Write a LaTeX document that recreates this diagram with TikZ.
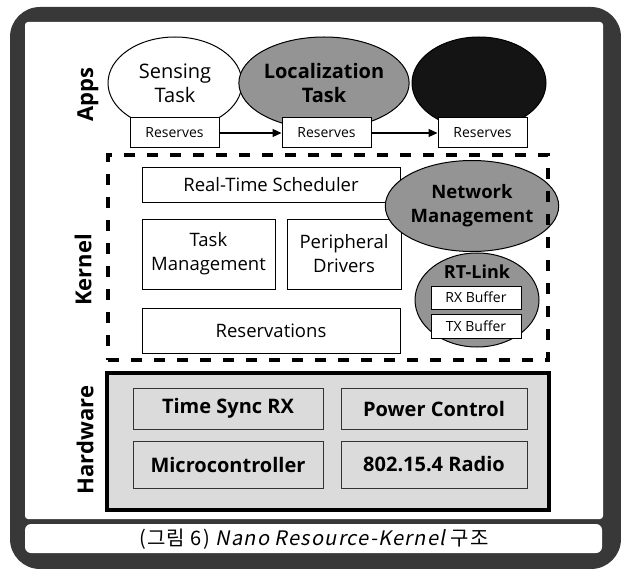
\documentclass[tikz,border=0pt]{standalone}
\usepackage{fontspec}
\setmainfont{Open Sans}
\newfontfamily\cjk[LetterSpace=6]{Noto Sans CJK KR}
\newfontfamily\cjkit[LetterSpace=6,FakeSlant=0.2]{Noto Sans CJK KR}
\usetikzlibrary{shapes.geometric,arrows.meta}

\definecolor{framegray}{gray}{0.22}
\definecolor{midgray}{gray}{0.58}
\definecolor{hwgray}{gray}{0.86}

\tikzset{
  layerlabel/.style={rotate=90, font=\fontsize{22}{22}\selectfont\bfseries},
  taskell/.style={ellipse, draw=black, line width=1pt, inner sep=0pt,
    minimum width=134pt, minimum height=92pt, align=center},
  resbox/.style={draw=black, fill=white, line width=1pt, inner sep=0pt,
    minimum width=89pt, minimum height=30pt, font=\fontsize{14}{14}\selectfont},
  kbox/.style={draw=black, fill=white, line width=0.8pt, inner sep=0pt,
    align=center, font=\fontsize{18.5}{24}\selectfont},
  netell/.style={ellipse, draw=black, fill=midgray, line width=1pt, inner sep=0pt,
    align=center},
  bufbox/.style={draw=black, fill=white, line width=0.8pt, inner sep=0pt,
    minimum width=90pt, font=\fontsize{14}{14}\selectfont},
  hwbox/.style={draw=black!80, fill=hwgray, line width=0.8pt, inner sep=0pt,
    minimum width=190pt, font=\fontsize{20}{20}\selectfont\bfseries},
  flow/.style={-{Triangle[length=9pt,width=8pt]}, line width=1.2pt},
  kernelframe/.style={draw=black, line width=4.5pt, dash pattern=on 11pt off 12pt,
    inner sep=0pt, minimum width=440pt, minimum height=205pt},
  hwframe/.style={draw=black, fill=hwgray, line width=4.5pt, inner sep=0pt,
    minimum width=442pt, minimum height=137pt}
}

\begin{document}
\begin{tikzpicture}[x=1pt,y=-1pt]
\useasboundingbox (0,0) rectangle (621,569);
\fill[white] (0,0) rectangle (621,569);

% page frame and its two white panels
\fill[framegray, rounded corners=30pt] (10,7) rectangle (621,569);
\fill[white, rounded corners=3pt] (25,22) rectangle (603,519);
\fill[white, rounded corners=6pt] (25,524) rectangle (602,553);

% layer labels
\node[layerlabel] (lapps) at (88,95) {Apps};
\node[layerlabel] (lkern) at (83,270) {Kernel};
\node[layerlabel] (lhw) at (85,440) {Hardware};

% application tasks
\node[taskell, fill=white, font=\fontsize{20}{24}\selectfont] (sense) at (175,83) {Sensing\\Task};
\node[taskell, fill=midgray, font=\fontsize{20}{24}\selectfont\bfseries] (loc) at (324,83) {Localization\\Task};
\node[taskell, fill=black!92] (third) at (479,83) {};

\node[resbox] (r1) at (174.5,133) {Reserves};
\node[resbox] (r2) at (326.5,133) {Reserves};
\node[resbox] (r3) at (482.5,133) {Reserves};

\draw[flow] (r1.east) -- (r2.west);
\draw[flow] (r2.east) -- (r3.west);

% kernel services
\node[kbox, minimum width=258pt, minimum height=35pt] (rts) at (271,184.5) {Real-Time Scheduler};
\node[kbox, minimum width=133pt, minimum height=70pt] (tm) at (208.5,254) {Task\\Management};
\node[kbox, minimum width=114pt, minimum height=70pt] (pd) at (344,254) {Peripheral\\Drivers};
\node[kbox, minimum width=258pt, minimum height=45pt] (resv) at (271,330.5) {Reservations};

\node[netell, minimum width=141pt, minimum height=91pt,
  font=\fontsize{18.5}{24}\selectfont\bfseries] (net) at (472,206) {Network\\Management};
\node[netell, minimum width=124pt, minimum height=94pt] (rtl) at (477,300) {};
\node[font=\fontsize{18}{18}\selectfont\bfseries] (rtlt) at (477,272) {RT-Link};
\node[bufbox, minimum height=23pt] (rx) at (476,297.5) {RX Buffer};
\node[bufbox, minimum height=24pt] (tx) at (476,326) {TX Buffer};

\node[kernelframe] (kern) at (328,257.5) {};

% hardware layer
\node[hwframe] (hw) at (328,441.5) {};
\node[hwbox, minimum height=41pt] (tsync) at (228,408.5) {Time Sync RX};
\node[hwbox, minimum height=47pt] (mcu) at (228,464.5) {Microcontroller};
\node[hwbox, minimum width=186pt, minimum height=41pt] (pwr) at (434,408.5) {Power Control};
\node[hwbox, minimum width=186pt, minimum height=47pt] (radio) at (434,464.5) {802.15.4 Radio};

% caption
\node[font=\fontsize{20}{20}\selectfont] (cap) at (314,539)
  {{\cjk (그림 6) }{\cjkit Nano Resource-Kernel }{\cjk 구조}};
\end{tikzpicture}
\end{document}
